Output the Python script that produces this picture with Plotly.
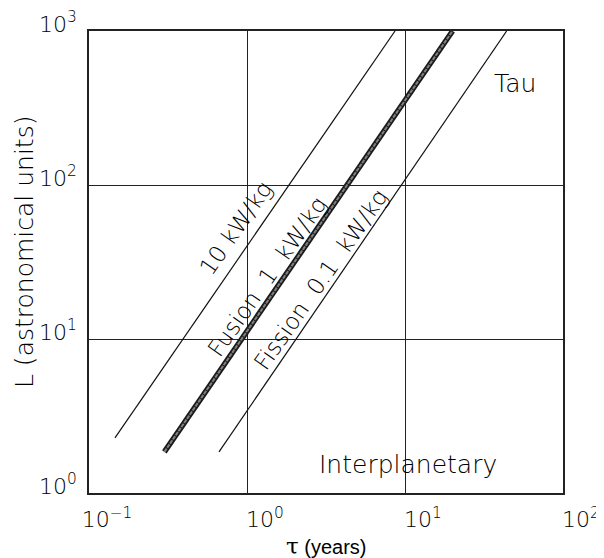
import numpy as np
import plotly.graph_objects as go

# ---- data ----
tau_10kw = [0.146, 8.65]
L_10kw = [2.28, 1000]
tau_fusion = [0.30, 20.0]
L_fusion = [1.85, 1000]
tau_fission = [0.665, 44.0]
L_fission = [1.85, 1000]

x_tickvals = [0.1, 1, 10, 100]
x_ticktext = ["10<sup>−1</sup>", "10<sup>0</sup>", "10<sup>1</sup>", "10<sup>2</sup>"]
y_tickvals = [1, 10, 100, 1000]
y_ticktext = ["10<sup>0</sup>", "10<sup>1</sup>", "10<sup>2</sup>", "10<sup>3</sup>"]

line_labels = ["10 kW/kg", "Fusion\u00a0 1\u00a0 kW/kg", "Fission\u00a0 0.1\u00a0 kW/kg"]
label_tau = [0.85, 1.34, 2.92]
label_L = [52.6, 25.3, 24.2]

region_labels = ["Tau", "Interplanetary"]
region_tau = [49.7, 10.4]
region_L = [453, 1.54]

FONT = "DejaVu Sans"
INK = "#000"

fig = go.Figure()
fig.add_trace(go.Scatter(x=tau_10kw, y=L_10kw, mode="lines",
                         line=dict(color="#111", width=1.2), showlegend=False))
fig.add_trace(go.Scatter(x=tau_fusion, y=L_fusion, mode="lines",
                         line=dict(color="#1a1a1a", width=5.5), showlegend=False))
fig.add_trace(go.Scatter(x=tau_fusion, y=L_fusion, mode="lines",
                         line=dict(color="#808080", width=2.0, dash="4px,1px"), showlegend=False))
fig.add_trace(go.Scatter(x=tau_fission, y=L_fission, mode="lines",
                         line=dict(color="#111", width=1.2), showlegend=False))

annotations = []
for t, xv, yv in zip(line_labels, label_tau, label_L):
    annotations.append(dict(x=np.log10(xv), y=np.log10(yv), xref="x", yref="y",
                            text=t, showarrow=False, textangle=-55,
                            font=dict(family=FONT, size=23, color=INK, weight=200)))
for t, xv, yv in zip(region_labels, region_tau, region_L):
    annotations.append(dict(x=np.log10(xv), y=np.log10(yv), xref="x", yref="y",
                            text=t, showarrow=False,
                            font=dict(family=FONT, size=25, color=INK, weight=200)))

annotations.append(dict(x=0.5, y=0, xref="paper", yref="paper", yanchor="top",
                        yshift=-38, showarrow=False,
                        text="<span style='font-family:DejaVu Serif;font-size:23px'>τ</span> (years)",
                        font=dict(family="Liberation Sans Narrow, Liberation Sans", size=20, color=INK)))
annotations.append(dict(x=0, y=0.5, xref="paper", yref="paper", xanchor="center",
                        xshift=-65, yshift=10, showarrow=False, textangle=-90,
                        text="L (astronomical units)",
                        font=dict(family=FONT, size=25, color=INK, weight=200)))

fig.update_layout(
    width=596, height=550,
    margin=dict(l=81, r=41, t=23, b=65, autoexpand=False),
    paper_bgcolor="white", plot_bgcolor="white",
    annotations=annotations,
    font=dict(family=FONT, color=INK),
)
fig.update_xaxes(type="log", range=[-1, 2], tickvals=x_tickvals, ticktext=x_ticktext,
                 showgrid=True, gridcolor="#222", gridwidth=1,
                 showline=True, linecolor="#222", linewidth=1.5, mirror=True,
                 ticks="", ticklabelshift=18, ticklabelstandoff=6,
                 ticklabeloverflow="allow", automargin=False,
                 tickfont=dict(family=FONT, size=22, color=INK, weight=200), zeroline=False)
fig.update_yaxes(type="log", range=[0, 3], tickvals=y_tickvals, ticktext=y_ticktext,
                 showgrid=True, gridcolor="#222", gridwidth=1,
                 showline=True, linecolor="#222", linewidth=1.5, mirror=True,
                 ticks="", ticklabelshift=-7, ticklabelstandoff=6,
                 ticklabeloverflow="allow", automargin=False,
                 tickfont=dict(family=FONT, size=22, color=INK, weight=200), zeroline=False)

fig.write_html("out.html")
